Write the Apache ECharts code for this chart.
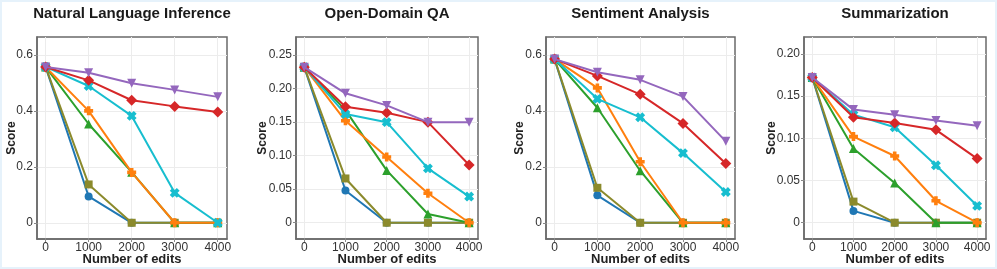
<!DOCTYPE html>
<html>
<head>
<meta charset="utf-8">
<script src="https://cdn.jsdelivr.net/npm/echarts@6/dist/echarts.min.js"></script>
<style>
html,body{margin:0;padding:0;background:#fff;}
#wrap{position:relative;width:997px;height:269px;}
#chart{width:997px;height:269px;}
#frame{position:absolute;left:0;top:0;width:997px;height:269px;box-sizing:border-box;border:2px solid #e6f2fb;pointer-events:none;}
</style>
</head>
<body>
<div id="wrap"><div id="chart"></div><div id="frame"></div></div>
<script>
// ---- data ----
const edits = [0, 1000, 2000, 3000, 4000];
const xTicks = [0, 1000, 2000, 3000, 4000];
const xTickLabels = ['0', '1000', '2000', '3000', '4000'];
const titles = ['Natural Language Inference', 'Open-Domain QA', 'Sentiment Analysis', 'Summarization'];
const seriesNames = ['Method 1', 'Method 2', 'Method 3', 'Method 4', 'Method 5', 'Method 6', 'Method 7'];

// order: blue, olive, green, orange, cyan, red, purple
const nliBlue   = [0.557, 0.094, 0, 0, 0];
const nliOlive  = [0.557, 0.137, 0, 0, 0];
const nliGreen  = [0.557, 0.353, 0.181, 0, 0];
const nliOrange = [0.557, 0.400, 0.180, 0, 0];
const nliCyan   = [0.557, 0.489, 0.382, 0.107, 0];
const nliRed    = [0.557, 0.509, 0.438, 0.416, 0.396];
const nliPurple = [0.557, 0.536, 0.499, 0.475, 0.450];

const qaBlue   = [0.232, 0.048, 0, 0, 0];
const qaOlive  = [0.232, 0.066, 0, 0, 0];
const qaGreen  = [0.232, 0.168, 0.078, 0.013, 0];
const qaOrange = [0.232, 0.152, 0.098, 0.044, 0];
const qaCyan   = [0.232, 0.162, 0.150, 0.081, 0.039];
const qaRed    = [0.232, 0.173, 0.164, 0.150, 0.086];
const qaPurple = [0.232, 0.193, 0.175, 0.150, 0.150];

const saBlue   = [0.585, 0.098, 0, 0, 0];
const saOlive  = [0.585, 0.125, 0, 0, 0];
const saGreen  = [0.585, 0.411, 0.186, 0, 0];
const saOrange = [0.585, 0.482, 0.218, 0, 0];
const saCyan   = [0.585, 0.443, 0.377, 0.249, 0.110];
const saRed    = [0.585, 0.525, 0.459, 0.355, 0.212];
const saPurple = [0.585, 0.538, 0.511, 0.451, 0.291];

const smBlue   = [0.172, 0.014, 0, 0, 0];
const smOlive  = [0.172, 0.025, 0, 0, 0];
const smGreen  = [0.172, 0.088, 0.047, 0, 0];
const smOrange = [0.172, 0.102, 0.079, 0.026, 0];
const smCyan   = [0.172, 0.128, 0.113, 0.068, 0.020];
const smRed    = [0.172, 0.125, 0.118, 0.110, 0.076];
const smPurple = [0.172, 0.134, 0.128, 0.121, 0.115];

const yTickValues = [
  [0, 0.2, 0.4, 0.6],
  [0, 0.05, 0.10, 0.15, 0.20, 0.25],
  [0, 0.2, 0.4, 0.6],
  [0, 0.05, 0.10, 0.15, 0.20]
];
const yTickLabels = [
  ['0', '0.2', '0.4', '0.6'],
  ['0', '0.05', '0.10', '0.15', '0.20', '0.25'],
  ['0', '0.2', '0.4', '0.6'],
  ['0', '0.05', '0.10', '0.15', '0.20']
];

const panels = [
  [nliBlue, nliOlive, nliGreen, nliOrange, nliCyan, nliRed, nliPurple],
  [qaBlue, qaOlive, qaGreen, qaOrange, qaCyan, qaRed, qaPurple],
  [saBlue, saOlive, saGreen, saOrange, saCyan, saRed, saPurple],
  [smBlue, smOlive, smGreen, smOrange, smCyan, smRed, smPurple]
];

// ---- styles ----
const colors = ['#1f77b4', '#8b8a2c', '#2ca02c', '#ff7f0e', '#17becf', '#d62728', '#9467bd'];
const plusPath = 'path://M3,0H7V3H10V7H7V10H3V7H0V3H3Z';
const symbols = ['circle', 'rect', 'triangle', plusPath, plusPath, 'diamond', 'triangle'];
const symRot = [0, 0, 0, 0, 45, 0, 180];
const symSize = [8, 8, 9, 9, 10, 11, 9];

const gridLeft = [37, 296, 546, 804];
const gridWidth = [190, 182, 189, 182];
const yRanges = [[-0.058, 0.664], [-0.0243, 0.277], [-0.058, 0.664], [-0.0193, 0.220]];
const yNameGap = [19, 27, 20, 26];
const FONT = '"Liberation Sans", Arial, sans-serif';

function lookup(vals, labs, v) {
  for (let i = 0; i < vals.length; i++) if (Math.abs(vals[i] - v) < 1e-9) return labs[i];
  return '';
}

const option = {
  animation: false,
  backgroundColor: '#fff',
  title: [], grid: [], xAxis: [], yAxis: [], series: []
};

for (let p = 0; p < 4; p++) {
  option.title.push({
    text: titles[p],
    left: gridLeft[p] + gridWidth[p] / 2,
    top: 6,
    padding: 0,
    textAlign: 'center',
    textStyle: { fontFamily: FONT, fontSize: 15, fontWeight: 'bold', color: '#1a1a1a' }
  });
  option.grid.push({
    left: gridLeft[p], width: gridWidth[p], top: 37, bottom: 30,
    outerBoundsMode: 'none', containLabel: false,
    show: true, borderColor: '#6a6a6a', borderWidth: 1.5, backgroundColor: '#fff'
  });
  option.xAxis.push({
    type: 'value', gridIndex: p, min: -200, max: 4215,
    name: 'Number of edits', nameLocation: 'middle', nameGap: 14, nameMoveOverlap: false,
    nameTextStyle: { fontFamily: FONT, fontSize: 13, fontWeight: 'bold', color: '#222' },
    axisLine: { show: true, onZero: false, lineStyle: { color: '#6a6a6a', width: 1.5 } },
    axisTick: { show: true, length: 3, customValues: xTicks, lineStyle: { color: '#888' } },
    axisLabel: {
      customValues: xTicks, margin: 3, fontFamily: FONT, fontSize: 12, color: '#333',
      formatter: function (v) { return lookup(xTicks, xTickLabels, v); }
    },
    splitLine: { show: true, lineStyle: { color: '#ececec', width: 1 } }
  });
  const vals = yTickValues[p], labs = yTickLabels[p];
  option.yAxis.push({
    type: 'value', gridIndex: p, min: yRanges[p][0], max: yRanges[p][1],
    name: 'Score', nameLocation: 'middle', nameGap: yNameGap[p], nameMoveOverlap: false,
    nameTextStyle: { fontFamily: FONT, fontSize: 12, fontWeight: 'bold', color: '#222' },
    axisLine: { show: true, onZero: false, lineStyle: { color: '#6a6a6a', width: 1.5 } },
    axisTick: { show: true, length: 3, customValues: vals, lineStyle: { color: '#888' } },
    axisLabel: {
      customValues: vals, margin: 4, fontFamily: FONT, fontSize: 12, color: '#333',
      formatter: function (v) { return lookup(vals, labs, v); }
    },
    splitLine: { show: true, lineStyle: { color: '#ececec', width: 1 } }
  });
  for (let s = 0; s < 7; s++) {
    option.series.push({
      type: 'line', name: seriesNames[s], xAxisIndex: p, yAxisIndex: p,
      data: edits.map((x, i) => [x, panels[p][s][i]]),
      symbol: symbols[s], symbolRotate: symRot[s], symbolSize: symSize[s],
      showAllSymbol: true,
      lineStyle: { color: colors[s], width: 2 },
      itemStyle: { color: colors[s], borderWidth: 0 },
      z: 2 + s
    });
  }
}

const chart = echarts.init(document.getElementById('chart'), null, { renderer: 'canvas' });
chart.setOption(option);
</script>
</body>
</html>
